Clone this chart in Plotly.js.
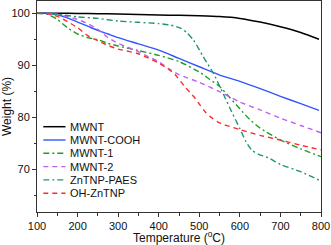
<!DOCTYPE html>
<html>
<head>
<meta charset="utf-8">
<script src="https://cdn.plot.ly/plotly-3.0.1.min.js"></script>
<style>html,body{margin:0;padding:0;background:#fff;}#chart{width:331px;height:245px;}</style>
</head>
<body>
<div id="chart"></div>
<script>
// Series names (legend order)
var seriesNames = ["MWNT", "MWNT-COOH", "MWNT-1", "MWNT-2", "ZnTNP-PAES", "OH-ZnTNP"];

// MWNT
var mwntT = [100, 150, 200, 250, 300, 350, 400, 450, 500, 550, 600, 650, 700, 750, 795];
var mwntW = [100, 100, 99.95, 99.9, 99.85, 99.75, 99.65, 99.6, 99.5, 99.35, 99.0, 98.3, 97.4, 96.3, 95.0];

// MWNT-COOH
var coohT = [100, 125, 150, 175, 200, 225, 250, 275, 300, 350, 400, 450, 500, 550, 600, 650, 700, 750, 795];
var coohW = [100, 100, 99.7, 99.1, 98.3, 97.5, 96.7, 96.0, 95.3, 94.1, 92.9, 91.3, 89.7, 88.1, 86.9, 85.5, 84.0, 82.6, 81.3];

// MWNT-1
var m1T = [100, 125, 150, 175, 200, 225, 250, 275, 300, 350, 400, 450, 500, 525, 550, 575, 600, 625, 650, 700, 750, 800];
var m1W = [100, 99.8, 98.8, 97.2, 96.0, 95.3, 94.9, 94.2, 93.7, 92.8, 91.9, 90.7, 88.7, 87.3, 85.9, 83.8, 81.6, 79.5, 77.9, 75.6, 73.9, 72.4];

// MWNT-2
var m2T = [100, 150, 200, 225, 250, 275, 300, 325, 350, 375, 400, 425, 450, 500, 550, 600, 650, 700, 750, 800];
var m2W = [100, 99.8, 98.8, 98.0, 96.9, 95.3, 94.2, 93.4, 92.6, 91.6, 90.7, 89.3, 88.2, 86.7, 84.9, 82.9, 81.4, 79.8, 78.4, 77.0];

// ZnTNP-PAES
var znT = [100, 150, 200, 250, 300, 350, 400, 430, 455, 470, 486, 510, 535, 550, 565, 580, 600, 615, 630, 645, 670, 700, 750, 800];
var znW = [100, 99.8, 99.3, 99.0, 98.5, 98.25, 98.0, 97.7, 97.1, 96.2, 94.8, 91.6, 88.4, 86.0, 83.5, 81.0, 77.8, 75.3, 73.6, 72.9, 72.2, 70.9, 69.5, 67.7];

// OH-ZnTNP
var ohT = [100, 125, 150, 175, 200, 225, 250, 275, 300, 350, 400, 425, 440, 465, 490, 502, 515, 527, 550, 600, 650, 700, 750, 800];
var ohW = [100, 99.9, 99.4, 98.4, 97.2, 95.7, 94.7, 93.8, 93.1, 92.2, 90.4, 89.2, 88.2, 85.8, 83.6, 82.3, 81.0, 80.1, 78.9, 77.6, 76.5, 75.6, 74.6, 73.7];

// Axis ticks
var xTicks = [100, 200, 300, 400, 500, 600, 700, 800];
var yTicks = [70, 80, 90, 100];

var xs = [mwntT, coohT, m1T, m2T, znT, ohT];
var ys = [mwntW, coohW, m1W, m2W, znW, ohW];
var colors = ["#000000", "#3355ff", "#1f9f1f", "#c060f0", "#1f9575", "#ff2a2a"];
var dashes = ["solid", "solid", "6px,3px,2px,3px", "5px,4px", "6px,3px,2px,3px", "5px,4px"];
var widths = [1.5, 1.4, 1.4, 1.4, 1.4, 1.4];

var traces = [];
for (var i = 0; i < seriesNames.length; i++) {
  traces.push({
    x: xs[i], y: ys[i], name: seriesNames[i], type: "scatter", mode: "lines",
    line: {color: colors[i], width: widths[i], dash: dashes[i], shape: "spline", smoothing: 0.6},
    showlegend: false, hoverinfo: "skip"
  });
}

// Manual compact legend built from the series arrays
var L = 37, R = 321, T = 1, B = 212;
function px2x(p) { return (p - L) / (R - L); }
function py2y(p) { return 1 - (p - T) / (B - T); }
var shapes = [], annotations = [];
for (var j = 0; j < seriesNames.length; j++) {
  var yy = py2y(126.7 + 13.3 * j);
  shapes.push({type: "line", xref: "paper", yref: "paper", x0: px2x(43.3), x1: px2x(65.5), y0: yy, y1: yy,
    line: {color: colors[j], width: widths[j], dash: dashes[j]}});
  annotations.push({xref: "paper", yref: "paper", x: px2x(69), y: yy, xanchor: "left", yanchor: "middle",
    text: seriesNames[j], showarrow: false, font: {family: "Liberation Sans, Arial, sans-serif", size: 11, color: "#111"},
    borderpad: 0});
}

var layout = {
  width: 331, height: 245,
  margin: {l: L, r: 331 - R, t: T, b: 245 - B},
  paper_bgcolor: "#fff", plot_bgcolor: "#fff",
  font: {family: "Liberation Sans, Arial, sans-serif", size: 11, color: "#111"},
  showlegend: false,
  xaxis: {
    range: [100, 800], tickvals: xTicks, ticktext: xTicks.map(String),
    ticks: "outside", ticklen: 4, tickwidth: 1, tickcolor: "#333",
    minor: {tickvals: [150, 250, 350, 450, 550, 650, 750], ticks: "outside", ticklen: 2.5, tickcolor: "#333", tickwidth: 1},
    showline: true, linecolor: "#333", linewidth: 1, mirror: true, showgrid: false, zeroline: false,
    tickfont: {size: 11, color: "#111"},
    title: {text: "Temperature (<sup>o</sup>C)", font: {size: 12, color: "#111"}, standoff: 4}
  },
  yaxis: {
    range: [61.75, 102.35], tickvals: yTicks, ticktext: yTicks.map(String),
    ticks: "outside", ticklen: 4, tickwidth: 1, tickcolor: "#333",
    minor: {tickvals: [65, 75, 85, 95], ticks: "outside", ticklen: 2.5, tickcolor: "#333", tickwidth: 1},
    showline: true, linecolor: "#333", linewidth: 1, mirror: true, showgrid: false, zeroline: false,
    tickfont: {size: 11, color: "#111"},
    title: {text: "Weight (%)", font: {size: 12, color: "#111"}, standoff: 4}
  },
  shapes: shapes,
  annotations: annotations
};

Plotly.newPlot("chart", traces, layout, {staticPlot: true, displayModeBar: false});
</script>
</body>
</html>
